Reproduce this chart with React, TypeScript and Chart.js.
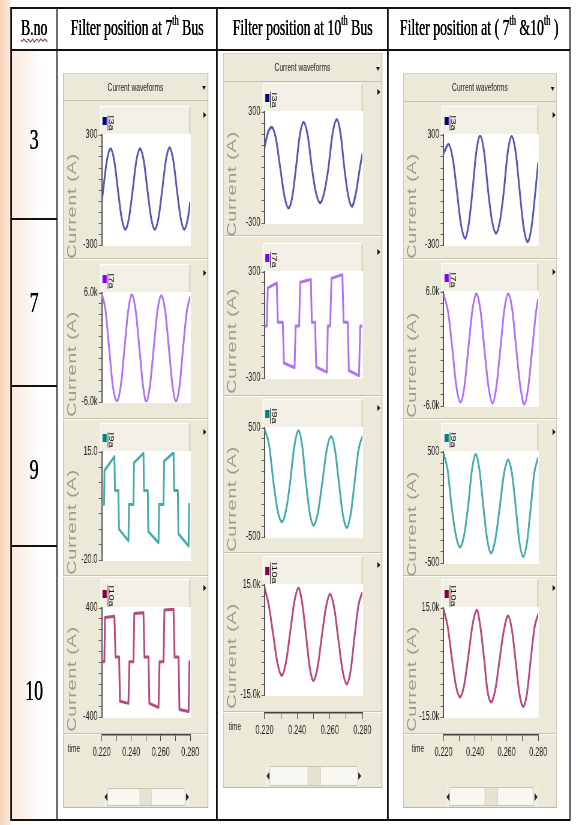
import React, { useEffect, useRef } from "react";
import { Chart, registerables } from "chart.js";

Chart.register(...registerables);

// ---------------- data ----------------
const TIME_RANGE = [0.22, 0.28];
const TIME_TICK_STEP = 0.01;
const TIME_TICK_LABELS = ["0.220", "0.240", "0.260", "0.280"];
const TIME_AXIS_TITLE = "time";
const PANEL_TITLE = "Current waveforms";
const Y_TITLE = "Current (A)";
const BUS_NUMBERS = ["3", "7", "9", "10"];
const SIGNAL_NAMES = ["I3a", "I7a", "I9a", "I10a"];
const LINE_COLORS = ["#5858b6", "#b270f4", "#45abab", "#b8487f"];
const KEY_COLORS = ["#000080", "#8000ff", "#008080", "#800040"];

// Column 1: filter at 7th bus
const c1I3aT = [0.22, 0.221, 0.2235, 0.226, 0.2285, 0.231, 0.2335, 0.236, 0.2385, 0.241, 0.2435, 0.246, 0.2485, 0.251, 0.2535, 0.256, 0.2585, 0.261, 0.2635, 0.266, 0.2685, 0.271, 0.2735, 0.276, 0.2785, 0.28];
const c1I3aV = [-65, 0, 160, 225, 160, 0, -152, -215, -152, 0, 160, 225, 160, 0, -152, -215, -152, 0, 162, 230, 162, 0, -152, -215, -152, -65];
const c1I7aT = [0.22, 0.2225, 0.225, 0.2275, 0.2303, 0.233, 0.2355, 0.238, 0.2404, 0.243, 0.2455, 0.248, 0.2502, 0.2527, 0.2553, 0.2578, 0.2604, 0.263, 0.2655, 0.268, 0.2703, 0.2728, 0.2752, 0.2777, 0.28];
const c1I7aV = [5900, 4200, 0, -4200, -5900, -4150, 0, 4100, 5800, 4100, 0, -4200, -6000, -4200, 0, 4050, 5700, 4050, 0, -4200, -5950, -4200, 0, 4000, 5600];
const c1I9aT = [0.22, 0.2216, 0.2219, 0.2286, 0.229, 0.2313, 0.2317, 0.2381, 0.2385, 0.2415, 0.2419, 0.2483, 0.2487, 0.2512, 0.2516, 0.2585, 0.2589, 0.2619, 0.2623, 0.2687, 0.2691, 0.2716, 0.272, 0.2789, 0.2793, 0.28];
const c1I9aV = [-2, -2, 9, 13.5, 2.5, 2.5, -10, -13.8, -2, -2, 11.5, 14.6, 2.5, 2.5, -10.8, -14.4, -2, -2, 12, 14.8, 2.5, 2.5, -11.5, -15.5, -2, -2];
const c1I10aT = [0.22, 0.2218, 0.2222, 0.2286, 0.2294, 0.2318, 0.2324, 0.2381, 0.2388, 0.2415, 0.2421, 0.2483, 0.249, 0.2517, 0.2523, 0.2585, 0.2592, 0.2619, 0.2625, 0.2687, 0.2694, 0.2721, 0.2727, 0.2789, 0.2795, 0.28];
const c1I10aV = [5, 5, 330, 340, 40, 40, -285, -300, 5, 5, 360, 365, 40, 40, -300, -330, 5, 5, 385, 390, 40, 40, -345, -360, 5, 5];

// Column 2: filter at 10th bus
const c2I3aT = [0.22, 0.2222, 0.2245, 0.227, 0.2296, 0.2322, 0.2347, 0.237, 0.2393, 0.2416, 0.2439, 0.2465, 0.249, 0.2515, 0.2541, 0.2566, 0.2592, 0.2617, 0.2643, 0.2666, 0.2689, 0.2712, 0.2735, 0.2758, 0.2785, 0.28];
const c2I3aV = [110, 190, 217, 155, 0, -155, -219, -160, 0, 172, 244, 172, 0, -135, -191, -135, 0, 183, 259, 183, 0, -148, -210, -148, 0, 75];
const c2I7aT = [0.22, 0.2214, 0.222, 0.2275, 0.2282, 0.2312, 0.2319, 0.2384, 0.2391, 0.2412, 0.2419, 0.2484, 0.249, 0.251, 0.2517, 0.2582, 0.2588, 0.2602, 0.2611, 0.2677, 0.2685, 0.271, 0.2717, 0.2779, 0.2787, 0.28];
const c2I7aV = [-5, -5, 210, 238, 15, 15, -215, -242, -5, -5, 242, 258, 15, 15, -238, -267, -5, -5, 265, 285, 15, 15, -258, -287, -5, -5];
const c2I9aT = [0.22, 0.2228, 0.2255, 0.228, 0.2306, 0.2332, 0.2357, 0.2383, 0.2408, 0.2431, 0.2454, 0.2477, 0.25, 0.2527, 0.2554, 0.2581, 0.2608, 0.2632, 0.2656, 0.268, 0.2704, 0.2728, 0.2752, 0.2776, 0.28];
const c2I9aV = [490, 345, 0, -255, -361, -255, 0, 335, 475, 335, 0, -278, -393, -278, 0, 298, 421, 298, 0, -293, -415, -293, 0, 300, 425];
const c2I10aT = [0.22, 0.2226, 0.2253, 0.228, 0.2306, 0.2332, 0.2357, 0.2383, 0.2408, 0.2431, 0.2454, 0.2477, 0.25, 0.2525, 0.2551, 0.2577, 0.2602, 0.2627, 0.2653, 0.2679, 0.2704, 0.2728, 0.2752, 0.2776, 0.28];
const c2I10aV = [14300, 9500, 1500, -6500, -9700, -6000, 2000, 10500, 14200, 10000, 1500, -7500, -11100, -7500, 1000, 9000, 12500, 8800, 0, -8500, -12000, -8300, 1000, 9500, 13000];

// Column 3: filters at 7th & 10th bus
const c3I3aT = [0.22, 0.2232, 0.2258, 0.2284, 0.231, 0.2337, 0.236, 0.2384, 0.2408, 0.2432, 0.2457, 0.2482, 0.2507, 0.2533, 0.2558, 0.2583, 0.2607, 0.2632, 0.2657, 0.2682, 0.2707, 0.2733, 0.2758, 0.2783, 0.28];
const c3I3aV = [200, 250, 175, 0, -185, -263, -185, 0, 210, 296, 210, 0, -167, -236, -167, 0, 207, 293, 207, 0, -200, -282, -200, 0, 150];
const c3I7aT = [0.22, 0.223, 0.2256, 0.2282, 0.2307, 0.2332, 0.2357, 0.2383, 0.2408, 0.2434, 0.2459, 0.2485, 0.251, 0.2535, 0.256, 0.2585, 0.261, 0.2636, 0.2661, 0.2687, 0.2712, 0.2737, 0.2762, 0.2787, 0.28];
const c3I7aV = [5800, 3800, 0, -4000, -5600, -4000, 0, 4100, 5800, 4100, 0, -4000, -5700, -4000, 0, 4100, 5800, 4100, 0, -4000, -5800, -4000, 0, 4000, 5300];
const c3I9aT = [0.22, 0.2226, 0.2252, 0.2279, 0.2305, 0.233, 0.2355, 0.238, 0.2404, 0.2428, 0.2453, 0.2477, 0.2501, 0.2528, 0.2556, 0.2583, 0.261, 0.2634, 0.2658, 0.2681, 0.2705, 0.2729, 0.2753, 0.2776, 0.28];
const c3I9aV = [485, 340, 0, -255, -357, -255, 0, 338, 478, 338, 0, -290, -411, -290, 0, 302, 427, 302, 0, -313, -443, -313, 0, 320, 452];
const c3I10aT = [0.22, 0.2226, 0.2252, 0.2279, 0.2305, 0.2331, 0.2358, 0.2384, 0.2411, 0.2433, 0.2456, 0.2478, 0.2501, 0.2528, 0.2556, 0.2583, 0.261, 0.2634, 0.2658, 0.2681, 0.2705, 0.2729, 0.2753, 0.2776, 0.28];
const c3I10aV = [14700, 10000, 1500, -6500, -9500, -6200, 2000, 10400, 14400, 10000, 1500, -7600, -10900, -7500, 1000, 9000, 12800, 8800, 0, -8600, -12150, -8400, 1000, 9500, 13300];

// y-axis ranges and labels per column (rows: I3a, I7a, I9a, I10a)
const C1_Y_MIN = [-300, -6000, -20, -400];
const C1_Y_MAX = [300, 6000, 15, 400];
const C1_Y_STEP = [60, 1200, 5, 80];
const C1_Y_LABELS = [["300", "-300"], ["6.0k", "-6.0k"], ["15.0", "-20.0"], ["400", "-400"]];
const C2_Y_MIN = [-300, -300, -500, -15000];
const C2_Y_MAX = [300, 300, 500, 15000];
const C2_Y_STEP = [60, 60, 100, 3000];
const C2_Y_LABELS = [["300", "-300"], ["300", "-300"], ["500", "-500"], ["15.0k", "-15.0k"]];
const C3_Y_MIN = [-300, -6000, -500, -15000];
const C3_Y_MAX = [300, 6000, 500, 15000];
const C3_Y_STEP = [60, 1200, 100, 3000];
const C3_Y_LABELS = [["300", "-300"], ["6.0k", "-6.0k"], ["500", "-500"], ["15.0k", "-15.0k"]];

// ---------------- layout ----------------
const S = 0.6; // the whole picture is squeezed horizontally
const U = (x: number) => x / S;
const FONT = "'Liberation Sans', Arial, sans-serif";
const SERIF = "'Liberation Serif', 'Times New Roman', serif";
const PAD_V = 10;
const Y_AXIS_W = 40;
const PANEL_BG = "#ECE9D8";

const COLS = [
  {
    series: [[c1I3aT, c1I3aV], [c1I7aT, c1I7aV], [c1I9aT, c1I9aV], [c1I10aT, c1I10aV]],
    smooth: [true, true, false, false],
    ymin: C1_Y_MIN, ymax: C1_Y_MAX, ystep: C1_Y_STEP, ylab: C1_Y_LABELS,
    panelL: 63, panelR: 208, panelT: 73, panelB: 808, titleB: 101,
    plotL: 101.7, plotR: 190, plotTops: [135, 293, 452, 608], plotHs: [110, 109, 108, 109],
    seps: [258, 418, 575, 733], axisY: 735, timeX: 74,
    scrollT: 788, scrollB: 806, scrollL: 103, thumbL: 140, thumbR: 152,
  },
  {
    series: [[c2I3aT, c2I3aV], [c2I7aT, c2I7aV], [c2I9aT, c2I9aV], [c2I10aT, c2I10aV]],
    smooth: [true, false, true, true],
    ymin: C2_Y_MIN, ymax: C2_Y_MAX, ystep: C2_Y_STEP, ylab: C2_Y_LABELS,
    panelL: 223, panelR: 382, panelT: 53, panelB: 788, titleB: 82,
    plotL: 264.3, plotR: 362.3, plotTops: [112, 272, 428, 585], plotHs: [111, 106, 109, 110],
    seps: [235, 395, 552, 711], axisY: 713, timeX: 235,
    scrollT: 766, scrollB: 786, scrollL: 265, thumbL: 308, thumbR: 321,
  },
  {
    series: [[c3I3aT, c3I3aV], [c3I7aT, c3I7aV], [c3I9aT, c3I9aV], [c3I10aT, c3I10aV]],
    smooth: [true, true, true, true],
    ymin: C3_Y_MIN, ymax: C3_Y_MAX, ystep: C3_Y_STEP, ylab: C3_Y_LABELS,
    panelL: 403, panelR: 557, panelT: 73, panelB: 808, titleB: 102,
    plotL: 443.3, plotR: 538.3, plotTops: [135, 292, 452, 608], plotHs: [110, 114, 111, 109],
    seps: [258, 418, 575, 733], axisY: 735, timeX: 418,
    scrollT: 787, scrollB: 806, scrollL: 445, thumbL: 485, thumbR: 498,
  },
];

const whiteArea = {
  id: "whiteArea",
  beforeDraw(chart: any) {
    const a = chart.chartArea;
    if (!a) return;
    const ctx = chart.ctx;
    ctx.save();
    ctx.fillStyle = "#ffffff";
    ctx.fillRect(a.left, a.top - 1, a.right - a.left + 1, a.bottom - a.top + 2);
    ctx.restore();
  },
};

type ScopeProps = {
  left: number; top: number; w: number; h: number; padL: number;
  t: number[]; v: number[]; color: string; smooth: boolean;
  min: number; max: number; step: number; labels: string[];
};

function Scope(p: ScopeProps) {
  const ref = useRef<HTMLCanvasElement | null>(null);
  useEffect(() => {
    const c = ref.current;
    if (!c) return;
    const pts = p.t.map((x, i) => ({ x, y: p.v[i] }));
    const chart = new Chart(c, {
      type: "line",
      data: {
        datasets: [
          {
            data: pts,
            borderColor: p.color,
            borderWidth: 3,
            pointRadius: 0,
            fill: false,
            tension: p.smooth ? 0.4 : 0,
            cubicInterpolationMode: p.smooth ? "monotone" : "default",
            borderJoinStyle: "round",
          } as any,
        ],
      },
      options: {
        animation: false,
        responsive: false,
        events: [],
        layout: { padding: { left: p.padL, right: 1, top: PAD_V, bottom: PAD_V } },
        plugins: { legend: { display: false }, tooltip: { enabled: false } },
        scales: {
          x: { type: "linear", min: TIME_RANGE[0], max: TIME_RANGE[1], display: false },
          y: {
            type: "linear",
            min: p.min,
            max: p.max,
            afterFit: (s: any) => { s.width = Y_AXIS_W; },
            ticks: {
              stepSize: p.step,
              autoSkip: false,
              padding: 2,
              color: "#222",
              font: { family: FONT, size: 12 },
              callback: (val: any) => {
                const n = Number(val);
                const eps = (p.max - p.min) * 1e-6;
                if (Math.abs(n - p.max) < eps) return p.labels[0];
                if (Math.abs(n - p.min) < eps) return p.labels[1];
                return "";
              },
            },
            grid: { drawOnChartArea: false, drawTicks: true, tickLength: 5, color: "#666", lineWidth: 1 },
            border: { display: true, color: "#555", width: 2 },
          },
        },
      } as any,
      plugins: [whiteArea],
    });
    return () => chart.destroy();
  }, []);
  return <canvas ref={ref} width={p.w} height={p.h} style={{ position: "absolute", left: p.left, top: p.top }} />;
}

function TimeAxis(p: { left: number; top: number; w: number; h: number; padL: number }) {
  const ref = useRef<HTMLCanvasElement | null>(null);
  useEffect(() => {
    const c = ref.current;
    if (!c) return;
    const chart = new Chart(c, {
      type: "line",
      data: { datasets: [] },
      options: {
        animation: false,
        responsive: false,
        events: [],
        layout: { padding: { left: p.padL, right: 24, top: 0, bottom: 0 } },
        plugins: { legend: { display: false }, tooltip: { enabled: false } },
        scales: {
          x: {
            type: "linear",
            position: "bottom",
            min: TIME_RANGE[0],
            max: TIME_RANGE[1],
            afterFit: (s: any) => { s.height = p.h - 4; },
            ticks: {
              stepSize: TIME_TICK_STEP,
              autoSkip: false,
              maxRotation: 0,
              minRotation: 0,
              padding: 4,
              color: "#222",
              font: { family: FONT, size: 12 },
              callback: (val: any) => {
                const k = Math.round((Number(val) - TIME_RANGE[0]) / TIME_TICK_STEP);
                return k % 2 === 0 ? TIME_TICK_LABELS[k / 2] ?? "" : "";
              },
            },
            grid: { drawOnChartArea: false, drawTicks: true, tickLength: 6, color: "#444", lineWidth: 1 },
            border: { display: true, color: "#444", width: 1.5 },
          },
          y: { display: false },
        },
      } as any,
    });
    return () => chart.destroy();
  }, []);
  return <canvas ref={ref} width={p.w} height={p.h} style={{ position: "absolute", left: p.left, top: p.top }} />;
}

const abs = (l: number, t: number, w: number, h: number, extra: any = {}) => ({
  position: "absolute" as const, left: U(l), top: t, width: U(w), height: h, boxSizing: "border-box" as const, ...extra,
});

function Panel({ col }: { col: (typeof COLS)[number] }) {
  const { panelL, panelR, panelT, panelB, titleB, plotL, plotR, plotTops, plotHs, seps, axisY } = col;
  const items: any[] = [];
  // panel body
  items.push(<div key="bg" style={abs(panelL, panelT, panelR - panelL, panelB - panelT, { background: PANEL_BG, border: "1px solid #b9b5a2", borderTopColor: "#d8d4c4" })} />);
  // title bar
  items.push(
    <div key="title" style={abs(panelL, panelT, panelR - panelL, titleB - panelT, { borderBottom: "1px solid #c4c0ac", display: "flex", alignItems: "center", justifyContent: "center", fontFamily: FONT, fontSize: 11, color: "#222" })}>
      {PANEL_TITLE}
    </div>
  );
  items.push(<div key="tdot" style={{ position: "absolute", left: U(panelR - 6), top: (panelT + titleB) / 2 - 1, width: 0, height: 0, borderLeft: "3px solid transparent", borderRight: "3px solid transparent", borderTop: "4px solid #111" }} />);
  // separators
  seps.forEach((y, i) => {
    items.push(<div key={"sep" + i} style={abs(panelL, y, panelR - panelL, 2, { borderTop: "1px solid #c4c0ac", borderBottom: "1px solid #fbfaf5" })} />);
  });
  for (let i = 0; i < 4; i++) {
    const top = plotTops[i];
    const h = plotHs[i];
    const legTop = top - 29;
    const [t, v] = col.series[i] as [number[], number[]];
    // legend bar
    items.push(<div key={"leg" + i} style={abs(plotL - 1.5, legTop, plotR - plotL + 1.5, 29, { background: "#f2f0e6", borderTop: "1px solid #fff", borderLeft: "1px solid #fff", borderRight: "1px solid #b5b19e", borderBottom: "1px solid #b5b19e" })} />);
    items.push(<div key={"key" + i} style={{ position: "absolute", left: U(plotL + 1), top: legTop + 11, width: 7, height: 8, background: KEY_COLORS[i] }} />);
    items.push(
      <div key={"lab" + i} style={{ position: "absolute", left: U(plotL + 9.5), top: legTop + 17, transform: "translate(-50%,-50%) rotate(90deg)", fontFamily: FONT, fontSize: 11, lineHeight: "11px", color: "#111", whiteSpace: "nowrap", textDecoration: "underline" }}>
        {SIGNAL_NAMES[i]}
      </div>
    );
    items.push(<div key={"arr" + i} style={{ position: "absolute", left: U(panelR - 4.5), top: legTop + 6, width: 0, height: 0, borderTop: "3px solid transparent", borderBottom: "3px solid transparent", borderLeft: "5px solid #111" }} />);
    // y title
    items.push(
      <div key={"yt" + i} style={{ position: "absolute", left: U(panelL + 9), top: top + h / 2 + 16, transform: "translate(-50%,-50%) rotate(-90deg)", fontFamily: FONT, fontSize: 20, lineHeight: "20px", letterSpacing: 0.6, color: "#9e9a8c", whiteSpace: "nowrap" }}>
        {Y_TITLE}
      </div>
    );
    // chart
    const padL = U(plotL - panelL) - Y_AXIS_W;
    items.push(
      <Scope
        key={"sc" + i}
        left={U(panelL)}
        top={top - PAD_V}
        w={Math.round(U(plotR - panelL) + 1)}
        h={h + 2 * PAD_V}
        padL={padL}
        t={t}
        v={v}
        color={LINE_COLORS[i]}
        smooth={col.smooth[i]}
        min={col.ymin[i]}
        max={col.ymax[i]}
        step={col.ystep[i]}
        labels={col.ylab[i]}
      />
    );
  }
  // time axis
  items.push(<TimeAxis key="tx" left={U(panelL)} top={axisY - 4} w={Math.round(U(plotR - panelL) + 24)} h={34} padL={U(plotL - panelL)} />);
  items.push(<div key="tl" style={{ position: "absolute", left: U(col.timeX), top: axisY + 13, transform: "translate(-50%,-50%)", fontFamily: FONT, fontSize: 11, color: "#222" }}>{TIME_AXIS_TITLE}</div>);
  // scroll bar
  const sh = col.scrollB - col.scrollT;
  items.push(<div key="sb" style={abs(col.scrollL, col.scrollT, plotR - col.scrollL, sh, { background: "#f8f7f2", border: "1px solid #c9c5b3" })} />);
  items.push(<div key="sbl" style={abs(col.scrollL, col.scrollT, 5, sh, { background: "#efede4", borderRight: "1px solid #d0ccba" })} />);
  items.push(<div key="sbr" style={abs(plotR - 5, col.scrollT, 5, sh, { background: "#efede4", borderLeft: "1px solid #d0ccba" })} />);
  items.push(<div key="sba1" style={{ position: "absolute", left: U(col.scrollL + 1.2), top: col.scrollT + sh / 2 - 4, width: 0, height: 0, borderTop: "4px solid transparent", borderBottom: "4px solid transparent", borderRight: "5px solid #222" }} />);
  items.push(<div key="sba2" style={{ position: "absolute", left: U(plotR - 4), top: col.scrollT + sh / 2 - 4, width: 0, height: 0, borderTop: "4px solid transparent", borderBottom: "4px solid transparent", borderLeft: "5px solid #222" }} />);
  items.push(<div key="thumb" style={abs(col.thumbL, col.scrollT + 1, col.thumbR - col.thumbL, sh - 2, { background: "#e6e3d3", borderLeft: "1px solid #d6d2c0", borderRight: "1px solid #d6d2c0" })} />);
  return <>{items}</>;
}

const HEADER_CELLS = [
  { l: 11, r: 57 },
  { l: 57, r: 217 },
  { l: 217, r: 388 },
  { l: 388, r: 570 },
];
const ROW_LINES = [218, 385, 545];
const ROW_CENTERS = [139, 302, 469, 690];

export default function App() {
  const TOP = 7;
  const HEAD_B = 49;
  const BOT = 819;
  const LW = 1.6;
  const lines: any[] = [];
  lines.push(<div key="h0" style={abs(11, TOP, 570 - 11, LW, { background: "#111" })} />);
  lines.push(<div key="h1" style={abs(11, HEAD_B, 570 - 11, LW, { background: "#111" })} />);
  lines.push(<div key="h2" style={abs(11, BOT, 570 - 11, LW, { background: "#111" })} />);
  ROW_LINES.forEach((y, i) => lines.push(<div key={"r" + i} style={abs(11, y, 57 - 11, LW, { background: "#111" })} />));
  [11, 57, 217, 388, 570].forEach((x, i) =>
    lines.push(<div key={"v" + i} style={abs(x - 0.8, TOP, LW, BOT - TOP + LW, { background: "#111" })} />)
  );
  const cellStyle = (c: { l: number; r: number }) =>
    abs(c.l, TOP, c.r - c.l, HEAD_B - TOP, {
      display: "flex", alignItems: "center", justifyContent: "center", fontFamily: SERIF, fontSize: 23, color: "#000", whiteSpace: "nowrap",
      textShadow: "0.6px 0 0 #000",
    });
  const sup = { fontSize: "0.6em", verticalAlign: "0.7em", lineHeight: 0 } as const;
  return (
    <div style={{ position: "absolute", left: 0, top: 0, width: 577, height: 825, overflow: "hidden", background: "#fff" }}>
      <div style={{ position: "absolute", left: 0, top: 0, width: U(577), height: 825, transform: `scaleX(${S})`, transformOrigin: "0 0" }}>
        <div style={abs(0, 0, 11, 825, { background: "linear-gradient(to right, #f4d2b8, #fbeadf)" })} />
        <div style={abs(11, 49, 46, 770, { background: "linear-gradient(to right, rgba(246,214,190,0.55), rgba(255,255,255,0) 70%)" })} />
        {lines}
        <div style={cellStyle(HEADER_CELLS[0])}>
          <span style={{ textDecoration: "underline wavy #d02020", textDecorationThickness: 1, textUnderlineOffset: 3 }}>B.no</span>
        </div>
        <div style={cellStyle(HEADER_CELLS[1])}>
          <span>Filter position at 7<span style={sup}>th</span> Bus</span>
        </div>
        <div style={cellStyle(HEADER_CELLS[2])}>
          <span>Filter position at 10<span style={sup}>th</span> Bus</span>
        </div>
        <div style={cellStyle(HEADER_CELLS[3])}>
          <span>Filter position at ( 7<span style={sup}>th</span> &amp;10<span style={sup}>th</span> )</span>
        </div>
        {BUS_NUMBERS.map((n, i) => (
          <div key={"n" + i} style={{ position: "absolute", left: U(34), top: ROW_CENTERS[i], transform: "translate(-50%,-50%)", fontFamily: SERIF, fontSize: 30, color: "#000", textShadow: "0.6px 0 0 #000" }}>
            {n}
          </div>
        ))}
        {COLS.map((c, i) => (
          <Panel key={"p" + i} col={c} />
        ))}
      </div>
    </div>
  );
}
